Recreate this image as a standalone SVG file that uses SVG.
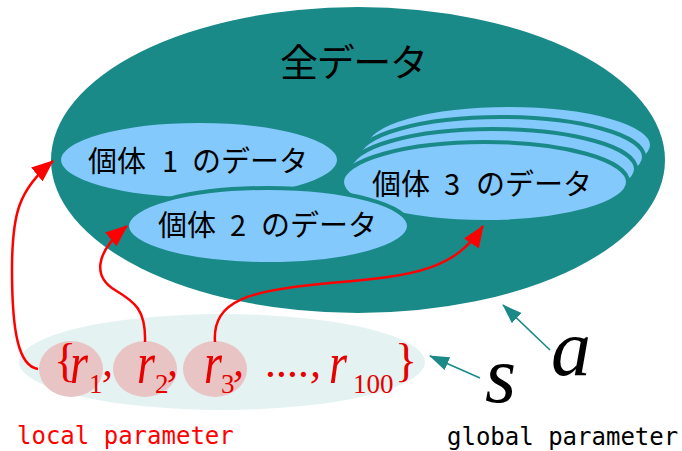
<svg xmlns="http://www.w3.org/2000/svg" width="682" height="451" viewBox="0 0 682 451">
<defs>
<marker id="ar" viewBox="0 0 22 18" markerUnits="userSpaceOnUse" markerWidth="22" markerHeight="18" refX="21" refY="9" orient="auto"><path d="M0,0 L22,9 L0,18 z" fill="#ff0000"/></marker>
<marker id="at" viewBox="0 0 20 14" markerUnits="userSpaceOnUse" markerWidth="20" markerHeight="14" refX="19" refY="7" orient="auto"><path d="M0,0 L20,7 L0,14 z" fill="#1a8a88"/></marker>
<style>
.cell{fill:#84c9fc;stroke:#1a8a88;stroke-width:4}
.jp{font-family:"Noto Sans CJK JP","Noto Sans",sans-serif;fill:#000}
.m{font-family:"Liberation Serif",serif;fill:#e60000}
.r{font-style:italic;font-size:60px}
.sub{font-style:normal;font-size:27px}
.cm{font-style:italic;font-size:44px}
.br{font-style:normal;font-size:46px}
.mono{font-family:"DejaVu Sans Mono",monospace;font-size:24px}
.rl{fill:none;stroke:#ff0000;stroke-width:2.5}
.tl{fill:none;stroke:#1a8a88;stroke-width:1.6}
.pk{fill:#e8c4c4}
</style>
</defs>
<g id="all-data">
<ellipse cx="358" cy="160" rx="307" ry="153" fill="#1a8a88"/>
<text class="jp" x="280" y="76" font-size="38" textLength="148" lengthAdjust="spacing">全データ</text>
</g>
<g id="indiv3">
<ellipse class="cell" cx="509" cy="145" rx="143" ry="40"/>
<ellipse class="cell" cx="501" cy="157" rx="143" ry="40"/>
<ellipse class="cell" cx="493" cy="169" rx="143" ry="40"/>
<ellipse class="cell" cx="485" cy="182" rx="143" ry="40"/>
<text class="jp" y="195" font-size="29"><tspan x="372">個体</tspan><tspan x="444">3</tspan><tspan x="476">のデータ</tspan></text>
</g>
<g id="indiv1">
<ellipse class="cell" cx="199" cy="160" rx="140" ry="39"/>
<text class="jp" y="172" font-size="29"><tspan x="88">個体</tspan><tspan x="162">1</tspan><tspan x="192">のデータ</tspan></text>
</g>
<g id="indiv2">
<ellipse class="cell" cx="268" cy="226" rx="141" ry="38"/>
<text class="jp" y="236" font-size="29"><tspan x="158">個体</tspan><tspan x="230">2</tspan><tspan x="261">のデータ</tspan></text>
</g>
<g id="local-params">
<ellipse cx="222" cy="362" rx="203" ry="48" fill="#e5f2f2"/>
<ellipse class="pk" cx="71" cy="369" rx="32" ry="28"/>
<ellipse class="pk" cx="145" cy="369" rx="32" ry="28"/>
<ellipse class="pk" cx="215" cy="369" rx="32" ry="28"/>
<text class="m"><tspan class="br" x="54" y="376">{</tspan><tspan class="r" x="70" y="383" textLength="18" lengthAdjust="spacingAndGlyphs">r</tspan><tspan class="sub" x="89" y="393">1</tspan><tspan class="cm" x="102" y="376">,</tspan><tspan class="r" x="137" y="383" textLength="18" lengthAdjust="spacingAndGlyphs">r</tspan><tspan class="sub" x="155" y="393">2</tspan><tspan class="cm" x="167" y="376">,</tspan><tspan class="r" x="204" y="383" textLength="18" lengthAdjust="spacingAndGlyphs">r</tspan><tspan class="sub" x="221" y="393">3</tspan><tspan class="cm" x="233" y="376">,</tspan><tspan class="cm" x="266" y="377">....,</tspan><tspan class="r" x="329" y="383" textLength="18" lengthAdjust="spacingAndGlyphs">r</tspan><tspan class="sub" x="353" y="393">100</tspan><tspan class="br" x="395" y="376">}</tspan></text>
<text class="mono" x="17" y="444" fill="#ff0000">local parameter</text>
</g>
<g id="global-params">
<text x="485" y="402" font-family="Liberation Serif,serif" font-style="italic" font-size="80" fill="#000">s</text>
<text x="551" y="375" font-family="Liberation Serif,serif" font-style="italic" font-size="80" fill="#000">a</text>
<text class="mono" x="447" y="445" fill="#000">global parameter</text>
</g>
<g id="connectors">
<path class="rl" d="M38,369 C18,366 12,330 12,270 C12,215 18,190 53,161" marker-end="url(#ar)"/>
<path class="rl" d="M145,342 C146,310 135,302 115,290 C95,278 92,255 127,226" marker-end="url(#ar)"/>
<path class="rl" d="M215,342 C212,300 250,290 330,283 C420,276 455,268 483,226" marker-end="url(#ar)"/>
<path class="tl" d="M550,350 L503,305" marker-end="url(#at)"/>
<path class="tl" d="M480,378 L430,356" marker-end="url(#at)"/>
</g>
</svg>
